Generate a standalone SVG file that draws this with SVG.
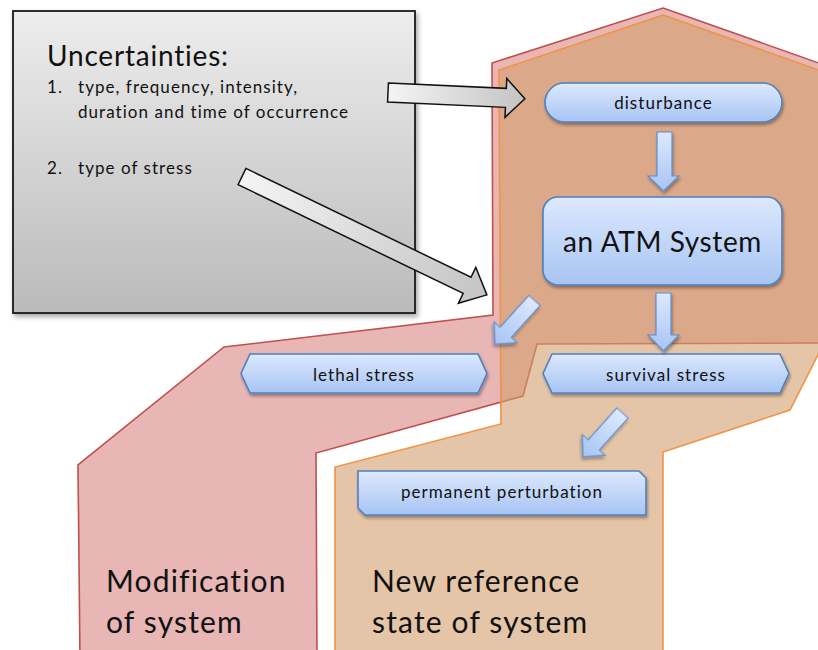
<svg xmlns="http://www.w3.org/2000/svg" width="818" height="650" viewBox="0 0 818 650">
<defs>
<linearGradient id="gBox" x1="0" y1="0" x2="0" y2="1"><stop offset="0" stop-color="#ededed"/><stop offset="1" stop-color="#bababa"/></linearGradient>
<linearGradient id="gArrow" x1="0" y1="0" x2="1" y2="0"><stop offset="0" stop-color="#f4f4f4"/><stop offset="1" stop-color="#c4c4c4"/></linearGradient>
<linearGradient id="gBlue" x1="0" y1="0" x2="0" y2="1"><stop offset="0" stop-color="#dde9fd"/><stop offset="1" stop-color="#a7c4f4"/></linearGradient>
<linearGradient id="gBlueA" x1="0" y1="0" x2="0" y2="1"><stop offset="0" stop-color="#dde9fd"/><stop offset="1" stop-color="#a7c4f4"/></linearGradient>
<filter id="sh" x="-10%" y="-20%" width="130%" height="150%"><feDropShadow dx="1" dy="2.5" stdDeviation="1.8" flood-color="#000" flood-opacity="0.35"/></filter>
<filter id="shBox" x="-5%" y="-5%" width="112%" height="112%"><feDropShadow dx="2" dy="3" stdDeviation="2.5" flood-color="#000" flood-opacity="0.35"/></filter>
</defs>
<style>
.red{fill:#e7b6b5;stroke:#c0504d;stroke-width:1.6;stroke-linejoin:miter}
.org{fill:#d39e6c;fill-opacity:0.6;stroke:#f39243;stroke-width:1.6}
.blue{fill:url(#gBlue);stroke:#4f81bd;stroke-width:1.6;filter:url(#sh)}
.barrow{fill:url(#gBlueA);stroke:#5b8fd0;stroke-width:1.2;filter:url(#sh)}
.garrow{fill:url(#gArrow);stroke:#111;stroke-width:1.5;stroke-linejoin:miter}
.t{font-family:Lato,"Liberation Sans",sans-serif;fill:#111}
.s{font-size:17px;letter-spacing:1.05px}
.b{font-size:30px;letter-spacing:1.15px}
.c{text-anchor:middle}
</style>
<g id="regions">
<polygon id="modification-region" class="red" points="663,8 830,67 830,343 537,344 523,396 316,453 317,660 80,660 78,465 224,347 493,315 492,63"/>
<polygon id="new-reference-region" class="org" points="663,15 830,74 830,331 790,410 663,452 663,660 335,660 335,467 501,424 499,70"/>
</g>
<g id="uncertainties">
<rect x="13" y="11" width="402" height="302" fill="url(#gBox)" stroke="#1a1a1a" stroke-width="1.8" filter="url(#shBox)"/>
<text class="t" x="47" y="66" font-size="28" letter-spacing="0.8">Uncertainties:</text>
<text class="t s" x="47" y="93">1.</text>
<text class="t s" x="78" y="93">type, frequency, intensity,</text>
<text class="t s" x="78" y="118">duration and time of occurrence</text>
<text class="t s" x="47" y="174">2.</text>
<text class="t s" x="78" y="174">type of stress</text>
</g>
<g id="labels">
<text class="t b" x="106" y="592">Modification</text>
<text class="t b" x="106" y="633">of system</text>
<text class="t b" x="372" y="592">New reference</text>
<text class="t b" x="372" y="633">state of system</text>
</g>
<g id="disturbance">
<rect class="blue" x="545" y="83" width="237" height="39" rx="19.5"/>
<text class="t s c" x="663.5" y="109">disturbance</text>
</g>
<g id="atm-system">
<rect class="blue" x="543" y="197" width="239" height="88" rx="15"/>
<text class="t c" x="662.5" y="252" font-size="28" letter-spacing="0.6">an ATM System</text>
</g>
<g id="lethal-stress">
<polygon class="blue" points="250,354 478,354 487,373.5 478,393 250,393 241,373.5"/>
<text class="t s c" x="364" y="381">lethal stress</text>
</g>
<g id="survival-stress">
<polygon class="blue" points="552,354 780,354 789,373.5 780,393 552,393 543,373.5"/>
<text class="t s c" x="666" y="381">survival stress</text>
</g>
<g id="permanent-perturbation">
<polygon class="blue" points="358,471 639,471 646,478 646,515 365,515 358,508"/>
<text class="t s c" x="502" y="498">permanent perturbation</text>
</g>
<g id="connectors">
<polygon class="garrow" transform="translate(388,92.5) rotate(2.6)" points="0,-9.5 118,-9.5 118,-19.5 137,0 118,19.5 118,9.5 0,9.5"/>
<polygon class="garrow" transform="translate(242,176.5) rotate(25.8)" points="0,-9 250,-9 250,-20 272,0 250,20 250,9 0,9"/>
<polygon class="barrow" points="657,132 672,132 672,176 679,176 663.5,191 648,176 657,176"/>
<polygon class="barrow" points="656,293 671,293 671,335 679,335 663.5,351 648,335 656,335"/>
<polygon class="barrow" transform="translate(534.5,300.5) rotate(42.2)" points="-7.5,0 7.5,0 7.5,43 15.5,43 0,59 -15.5,43 -7.5,43"/>
<polygon class="barrow" transform="translate(622.5,413) rotate(42)" points="-7.5,0 7.5,0 7.5,43 15.5,43 0,59 -15.5,43 -7.5,43"/>
</g>
</svg>
